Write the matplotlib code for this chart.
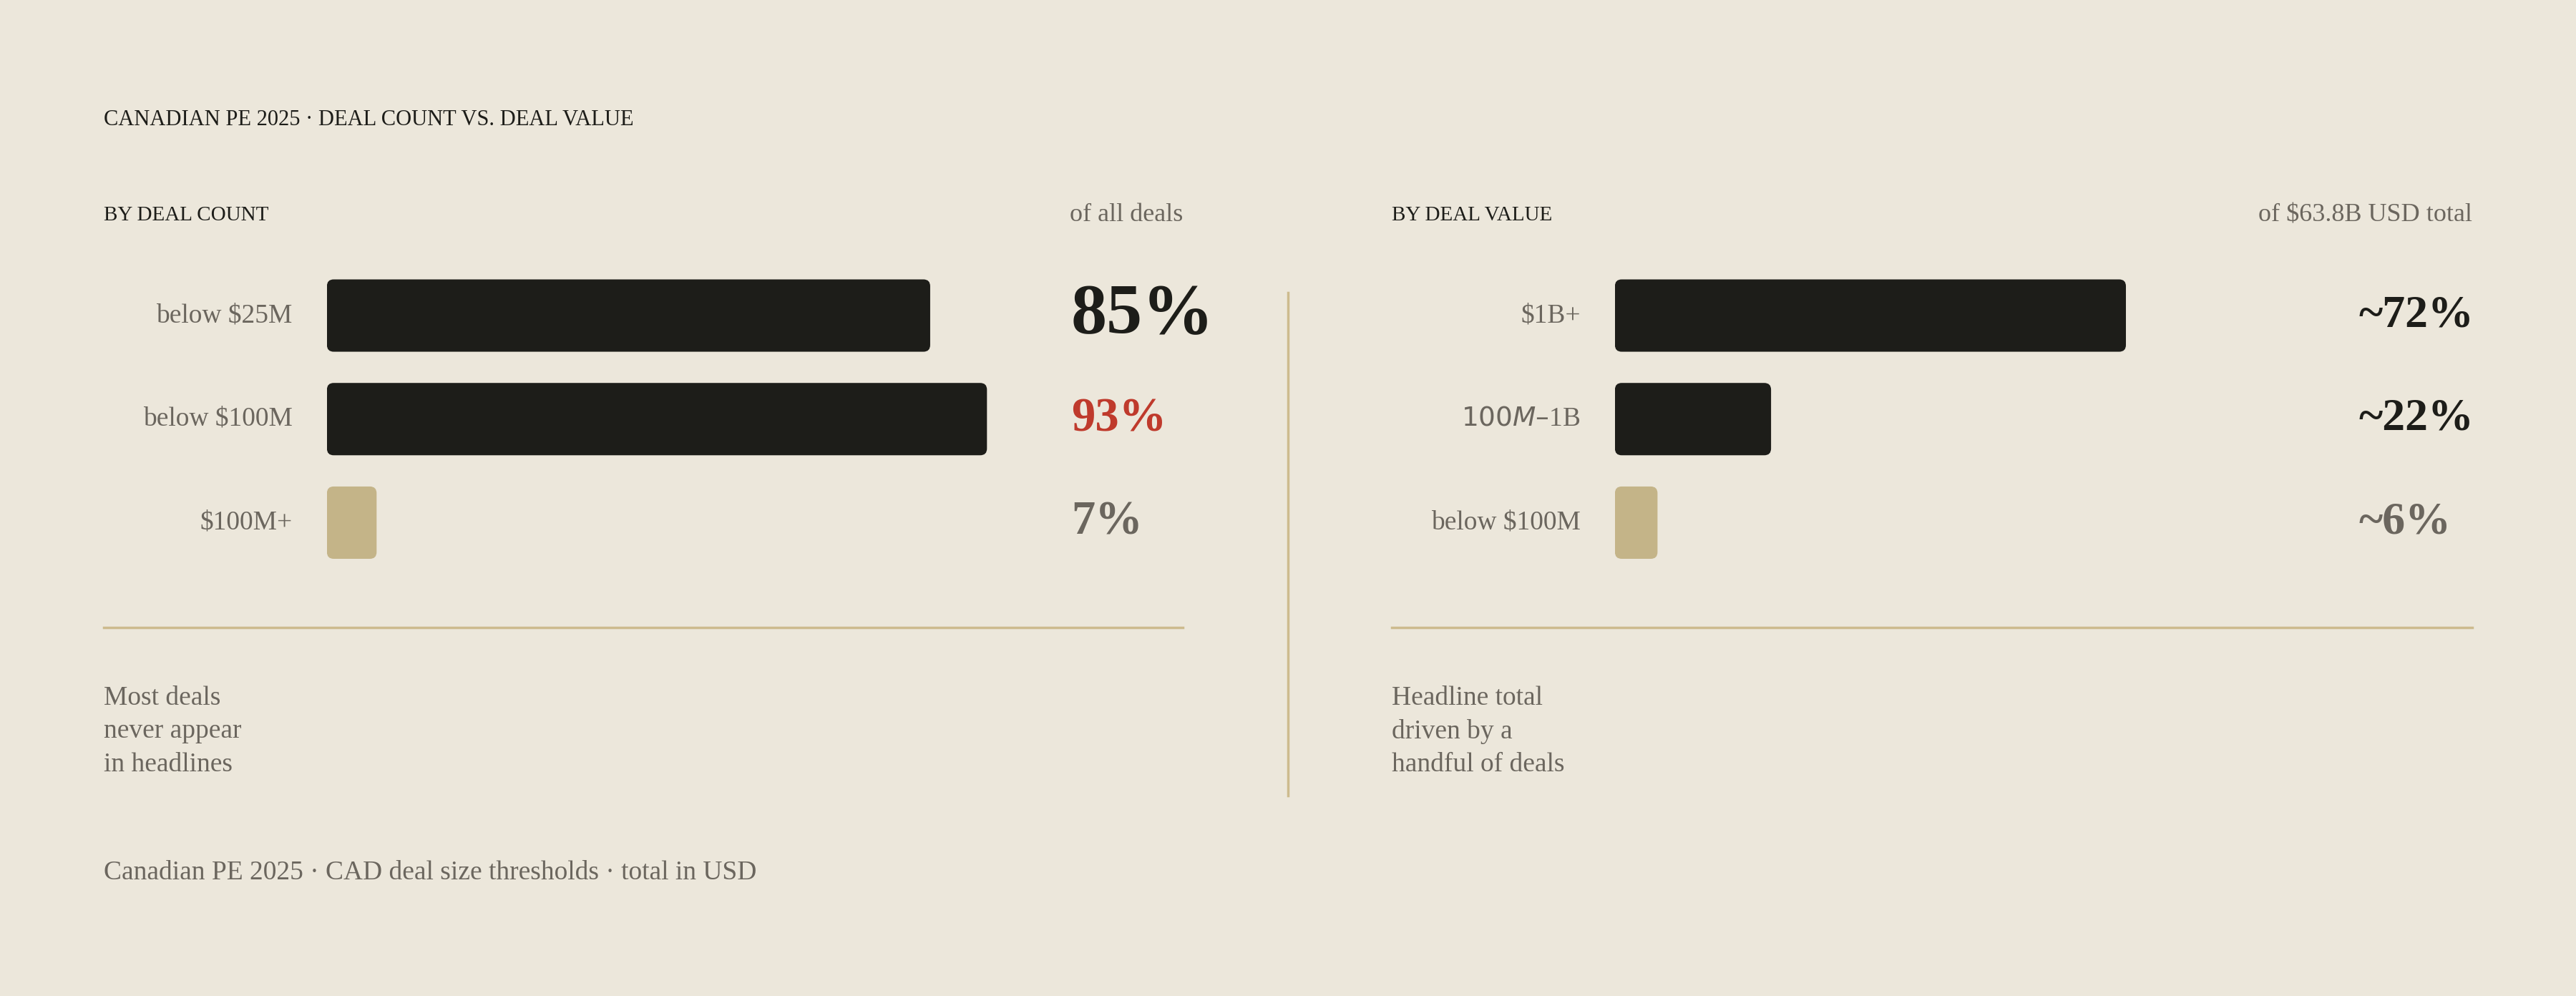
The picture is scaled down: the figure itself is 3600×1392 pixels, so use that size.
import matplotlib
matplotlib.use("Agg")
import matplotlib.pyplot as plt
from matplotlib.patches import FancyBboxPatch

left_cats = ["below $25M", "below $100M", "$100M+"]
left_vals = [85, 93, 7]
left_labels = ["85%", "93%", "7%"]
right_cats = ["$1B+", "$100M\u2013$1B", "below $100M"]
right_vals = [72, 22, 6]
right_labels = ["~72%", "~22%", "~6%"]

BG = "#ECE7DB"; DARK = "#1D1D19"; TAN = "#C4B488"; RED = "#BF3A2C"; GRAY = "#6B665E"; LINE = "#CDBB8E"
FONT = ["Liberation Serif", "DejaVu Serif"]
plt.rcParams["font.family"] = FONT

W, H = 1568, 606
fig = plt.figure(figsize=(36, 13.92), dpi=100, facecolor=BG)
def fx(x): return x / W
def fy(y): return 1 - y / H
def T(x, y, s, **kw):
    kw.setdefault("va", "center")
    fig.text(fx(x), fy(y), s, **kw)

sp = lambda s: "\u2009".join(s)
T(63, 73, "CANADIAN PE 2025 · DEAL COUNT VS. DEAL VALUE", fontsize=22, color=DARK)
T(63, 131, "BY DEAL COUNT", fontsize=21, color=DARK)
T(720, 131, "of all deals", fontsize=26, color=GRAY, ha="right")
T(847, 131, "BY DEAL VALUE", fontsize=21, color=DARK)
T(1505, 131, "of $63.8B USD total", fontsize=26, color=GRAY, ha="right")

rows_y = [192, 255, 318]
def panel(x0, cats, vals, labels, colors, lab_x, lab_styles):
    ax = fig.add_axes([fx(x0), fy(350), fx(432), (350 - 160) / H])
    ax.set_xlim(0, 100)
    ax.set_ylim(350, 160)
    ax.axis("off")
    asp = (1.0) / (100 / 432)
    for c, v, y, col in zip(cats, vals, rows_y, colors):
        ax.add_patch(FancyBboxPatch((0, y - 22), v, 44, boxstyle="round,pad=0,rounding_size=0.95",
                                    mutation_aspect=asp, fc=col, ec="none"))
        T(x0 - 21, y, c, fontsize=27, color=GRAY, ha="right")
    for lab, y, st in zip(labels, rows_y, lab_styles):
        T(lab_x, y, lab, fontweight="bold", **st)

panel(199, left_cats, left_vals, left_labels, [DARK, DARK, TAN], 652,
      [dict(fontsize=72, color=DARK), dict(fontsize=48, color=RED), dict(fontsize=48, color=GRAY)])
panel(983, right_cats, right_vals, right_labels, [DARK, DARK, TAN], 1436,
      [dict(fontsize=46, color=DARK), dict(fontsize=46, color=DARK), dict(fontsize=46, color=GRAY)])

for a, b in [(63, 720), (847, 1505)]:
    fig.add_artist(plt.Line2D([fx(a), fx(b)], [fy(382), fy(382)], color=LINE, lw=2.5))
fig.add_artist(plt.Line2D([fx(784), fx(784)], [fy(178), fy(484)], color=LINE, lw=2.5))

T(63, 445, "Most deals\nnever appear\nin headlines", fontsize=27, color=GRAY, linespacing=1.45)
T(847, 445, "Headline total\ndriven by a\nhandful of deals", fontsize=27, color=GRAY, linespacing=1.45)
T(63, 531, "Canadian PE 2025 · CAD deal size thresholds · total in USD", fontsize=27, color=GRAY)

fig.savefig("out.png", dpi=100, facecolor=BG)
